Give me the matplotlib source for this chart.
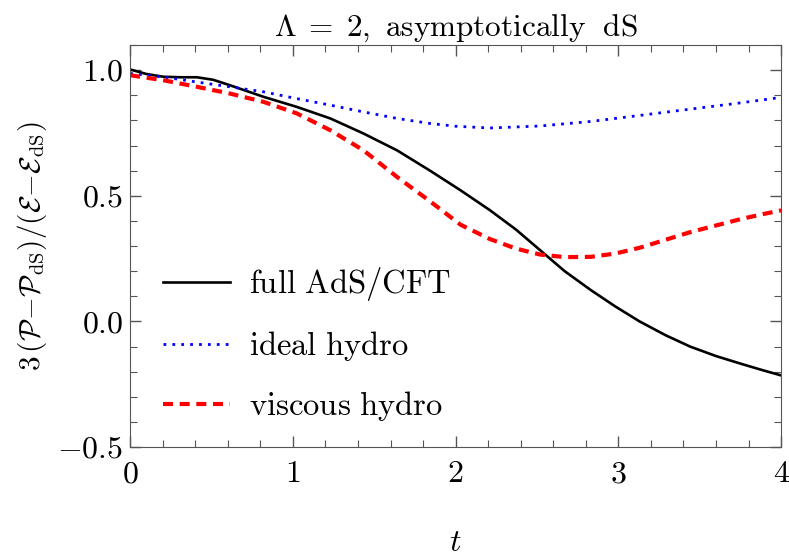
import numpy as np
import matplotlib
matplotlib.use('Agg')
import matplotlib.pyplot as plt
from matplotlib.ticker import MultipleLocator

plt.rcParams['mathtext.fontset'] = 'cm'
plt.rcParams['font.family'] = 'serif'
plt.rcParams['font.serif'] = ['cmr10', 'DejaVu Serif']
plt.rcParams['axes.unicode_minus'] = False

# data
t_full = [0, 0.1, 0.205, 0.31, 0.41, 0.51, 0.614, 0.82, 1.024, 1.23, 1.434, 1.64,
          1.843, 2.03, 2.21, 2.37, 2.52, 2.67, 2.83, 2.98, 3.13, 3.29, 3.44, 3.6,
          3.75, 3.88, 4.0]
full = [1.003, 0.985, 0.974, 0.972, 0.972, 0.962, 0.94, 0.894, 0.854, 0.808, 0.748,
        0.681, 0.60, 0.522, 0.443, 0.366, 0.283, 0.20, 0.125, 0.06, 0.0, -0.055,
        -0.1, -0.138, -0.168, -0.193, -0.215]

t_visc = [0, 0.205, 0.41, 0.614, 0.82, 1.024, 1.23, 1.434, 1.64, 1.843, 2.03, 2.21,
          2.37, 2.52, 2.67, 2.83, 2.98, 3.13, 3.29, 3.44, 3.6, 3.75, 3.88, 4.0]
viscous = [0.98, 0.96, 0.934, 0.907, 0.874, 0.828, 0.761, 0.681, 0.575, 0.478, 0.385,
           0.328, 0.29, 0.266, 0.256, 0.257, 0.27, 0.293, 0.325, 0.355, 0.382, 0.407,
           0.426, 0.442]

t_ideal = [0, 0.205, 0.41, 0.614, 0.82, 1.024, 1.23, 1.434, 1.64, 1.843, 2.0, 2.21,
           2.52, 2.83, 3.13, 3.44, 3.75, 4.0]
ideal = [0.987, 0.973, 0.953, 0.934, 0.914, 0.887, 0.861, 0.834, 0.808, 0.788, 0.777,
         0.77, 0.778, 0.796, 0.82, 0.845, 0.87, 0.892]

xticks = [0, 1, 2, 3, 4]
xticklabels = ['$0$', '$1$', '$2$', '$3$', '$4$']
yticks = [-0.5, 0.0, 0.5, 1.0]
yticklabels = ['$-0.5$', '$0.0$', '$0.5$', '$1.0$']

fig = plt.figure(figsize=(7.89, 5.57), dpi=100)
ax = fig.add_axes([0.165, 0.1975, 0.825, 0.7215])

ax.plot(t_full, full, color='black', lw=1.9, label=r'$\mathrm{full\ AdS/CFT}$')
ax.plot(t_ideal, ideal, color='blue', lw=2.0, ls=(0, (1, 2.2)),
        label=r'$\mathrm{ideal\ hydro}$')
ax.plot(t_visc, viscous, color='red', lw=3.0, ls=(0, (2.4, 1.6)),
        label=r'$\mathrm{viscous\ hydro}$')

ax.set_xlim(0, 4)
ax.set_ylim(-0.5, 1.1)
ax.set_xticks(xticks)
ax.set_xticklabels(xticklabels)
ax.set_yticks(yticks)
ax.set_yticklabels(yticklabels)
ax.xaxis.set_minor_locator(MultipleLocator(0.2))
ax.yaxis.set_minor_locator(MultipleLocator(0.1))
ax.tick_params(which='both', direction='in', top=True, right=True,
               color='#555555', labelsize=23)
ax.tick_params(axis='x', pad=10)
ax.tick_params(axis='y', pad=5)
ax.tick_params(which='major', length=8, width=1)
ax.tick_params(which='minor', length=5, width=0.8)
for s in ax.spines.values():
    s.set_color('#555555')

ax.set_title(r'$\Lambda\;=\;2,\ \mathrm{asymptotically}\ \ \mathrm{dS}$',
             fontsize=22.5, pad=7)
ax.set_xlabel(r'$t$', fontsize=23, labelpad=30)
ax.set_ylabel(r'$3\,(\mathcal{P}\!-\!\mathcal{P}_{\mathrm{dS}})/(\mathcal{E}\!-\!\mathcal{E}_{\mathrm{dS}})$',
              fontsize=21, labelpad=6)

ax.legend(loc='center left', bbox_to_anchor=(0.05, 0.256), frameon=False,
          fontsize=23.5, handlelength=2.05, handletextpad=0.6, labelspacing=0.8,
          borderpad=0, borderaxespad=0)

fig.savefig('out.png', dpi=100)
